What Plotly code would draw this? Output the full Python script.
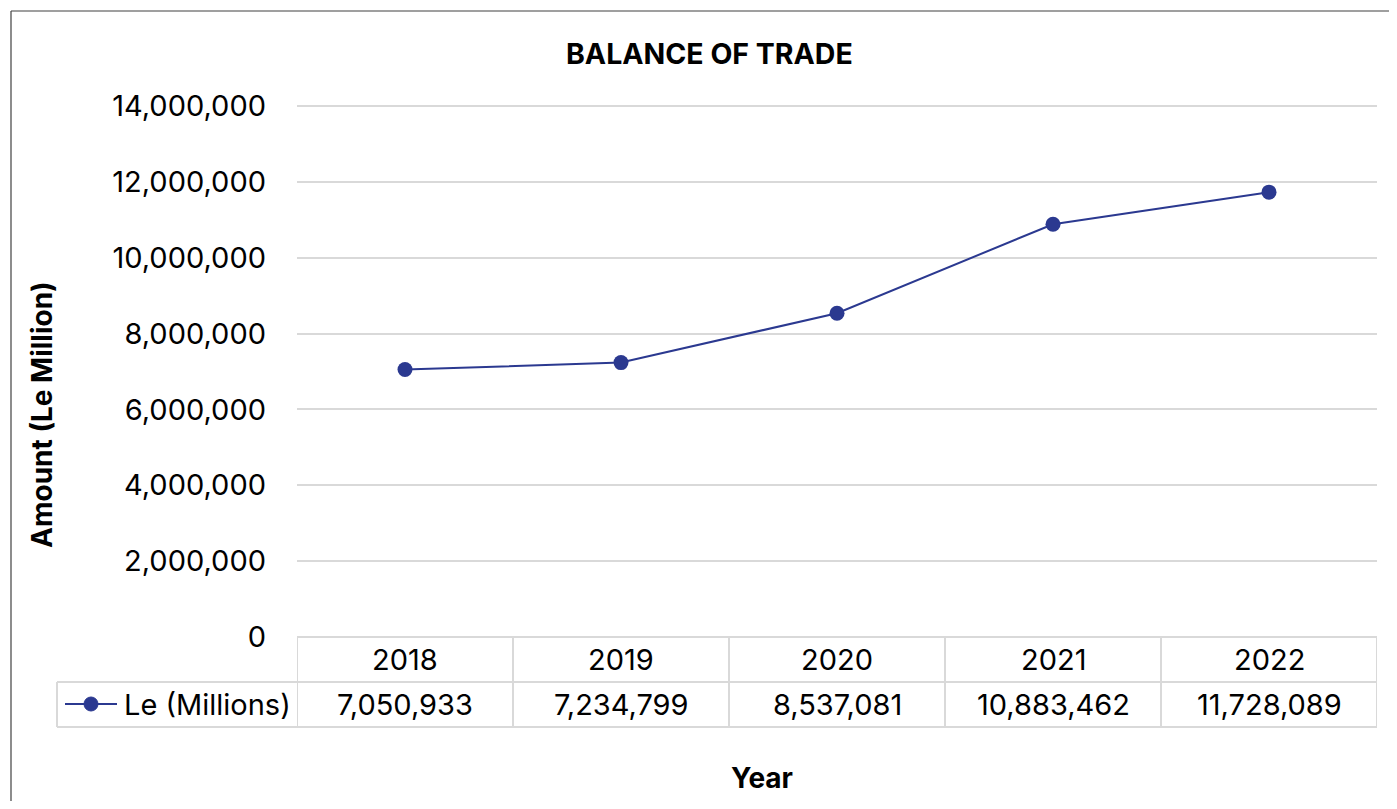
import plotly.graph_objects as go

years = ["2018", "2019", "2020", "2021", "2022"]
values = [7050933, 7234799, 8537081, 10883462, 11728089]
series_name = "Le (Millions)"
title_text = "BALANCE OF TRADE"
y_title = "Amount (Le Million)"
x_title = "Year"
y_ticks = [0, 2000000, 4000000, 6000000, 8000000, 10000000, 12000000, 14000000]

OFF = 8  # default page body margin
W, H = 1397 - 2 * OFF, 809 - 2 * OFF
L, R, T, B = 297 - OFF, 1377 - OFF, 106 - OFF, 637 - OFF
FONT = "Inter, Roboto, sans-serif"
FS = 29
NAVY = "#2b3990"
GRID = "#d9d9d9"

def px(x):
    return (x - OFF - L) / (R - L)

def py(y):
    return (B - (y - OFF)) / (B - T)

fig = go.Figure()
fig.add_trace(go.Scatter(
    x=list(range(len(years))), y=values, mode="lines+markers",
    line=dict(color=NAVY, width=2), marker=dict(color=NAVY, size=15),
    name=series_name, showlegend=False, cliponaxis=False,
))

shapes = []
line_style = dict(color=GRID, width=2)
frame = dict(color="#404040", width=1.2)
# outer frame (top and left edges; right/bottom fall outside the picture)
shapes.append(dict(type="line", xref="paper", yref="paper",
                   x0=px(11), x1=px(1400), y0=py(11), y1=py(11), line=frame))
shapes.append(dict(type="line", xref="paper", yref="paper",
                   x0=px(11), x1=px(11), y0=py(11), y1=py(812), line=frame))
# top gridline (edge of range)
shapes.append(dict(type="line", xref="paper", yref="paper",
                   x0=0, x1=1, y0=1, y1=1, line=line_style, layer="below"))
# table horizontal lines
for yy, x0 in [(637, 297), (682, 57), (727, 57)]:
    shapes.append(dict(type="line", xref="paper", yref="paper",
                       x0=px(x0), x1=px(1377), y0=py(yy), y1=py(yy), line=line_style))
# vertical lines
for i in range(len(years) + 1):
    shapes.append(dict(type="line", xref="x", yref="paper",
                       x0=i - 0.5, x1=i - 0.5, y0=py(637), y1=py(727), line=line_style))
shapes.append(dict(type="line", xref="paper", yref="paper",
                   x0=px(57), x1=px(57), y0=py(682), y1=py(727), line=line_style))
# legend key line + marker
shapes.append(dict(type="line", xref="paper", yref="paper",
                   x0=px(65), x1=px(117), y0=py(704), y1=py(704), line=dict(color=NAVY, width=2)))
shapes.append(dict(type="circle", xref="paper", yref="paper",
                   x0=px(91 - 7), x1=px(91 + 7), y0=py(704 + 7), y1=py(704 - 7),
                   line=dict(color=NAVY, width=1), fillcolor=NAVY))

font = dict(family=FONT, size=FS, color="#000")
ann = []
for i, (yr, v) in enumerate(zip(years, values)):
    ann.append(dict(x=i, y=py(659), xref="x", yref="paper", text=yr, showarrow=False,
                    font=font, xanchor="center", yanchor="middle"))
    ann.append(dict(x=i, y=py(704), xref="x", yref="paper", text=f"{v:,}", showarrow=False,
                    font=font, xanchor="center", yanchor="middle"))
ann.append(dict(x=px(122), y=py(704), xref="paper", yref="paper", text=series_name, showarrow=False,
                font=font, xanchor="left", yanchor="middle"))
ann.append(dict(x=px(709), y=py(53), xref="paper", yref="paper", text=f"<b>{title_text}</b>", showarrow=False,
                font=dict(family=FONT, size=28.5, color="#000"), xanchor="center", yanchor="middle"))
ann.append(dict(x=px(762), y=py(778), xref="paper", yref="paper", text=f"<b>{x_title}</b>", showarrow=False,
                font=dict(family=FONT, size=28, color="#000"), xanchor="center", yanchor="middle"))
ann.append(dict(x=px(42), y=py(415), xref="paper", yref="paper", text=f"<b>{y_title}</b>", showarrow=False,
                textangle=-90, font=dict(family=FONT, size=28, color="#000"), xanchor="center", yanchor="middle"))

fig.update_layout(
    width=W, height=H,
    margin=dict(l=L, r=W - R, t=T, b=H - B, pad=0),
    paper_bgcolor="white", plot_bgcolor="white",
    shapes=shapes, annotations=ann,
    xaxis=dict(range=[-0.5, len(years) - 0.5], showticklabels=False, showgrid=False,
               zeroline=False, showline=False, ticks=""),
    yaxis=dict(range=[0, 14000000], tickvals=y_ticks, ticktext=[f"{t:,}" for t in y_ticks],
               showgrid=True, gridcolor=GRID, gridwidth=2, zeroline=False, showline=False,
               ticks="", ticklabelstandoff=30, tickfont=font),
    showlegend=False,
)

fig.write_html("out.html")
